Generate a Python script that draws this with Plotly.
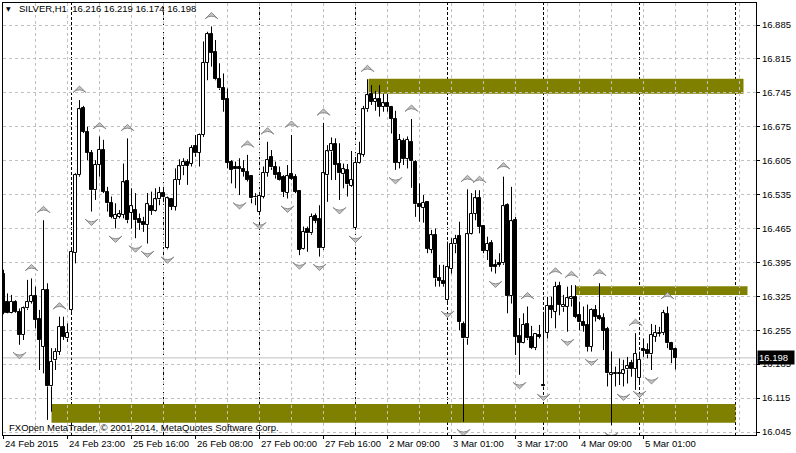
import plotly.graph_objects as go

# ---------------- data (SILVER, H1) ----------------
opens = [16.372,16.314,16.291,16.314,16.293,16.245,16.300,16.314,16.326,16.278,
         16.221,16.338,16.139,16.193,16.211,16.262,16.238,16.297,16.414,16.575,
         16.713,16.665,16.621,16.544,16.596,16.627,16.541,16.517,
         16.484,16.489,16.493,16.563,16.498,16.503,16.484,16.479,16.472,16.511,
         16.502,16.525,16.539,16.424,16.525,16.510,16.565,16.593,16.603,16.599,
         16.635,16.621,16.658,16.807,16.866,16.829,16.773,16.754,
         16.732,16.603,16.591,16.591,16.588,16.582,16.573,16.531,16.500,16.531,
         16.580,16.612,16.591,16.579,16.572,16.539,16.577,16.571,16.543,16.422,
         16.463,16.455,16.491,16.484,16.424,16.575,16.624,16.639,
         16.599,16.577,16.586,16.553,16.467,16.601,16.617,16.711,16.743,16.727,
         16.732,16.716,16.723,16.715,16.691,16.601,16.646,16.608,16.643,16.602,
         16.515,16.507,16.519,16.421,16.451,16.363,16.357,16.317,
         16.381,16.432,16.449,16.268,16.238,16.453,16.495,16.527,16.470,16.419,
         16.436,16.390,16.393,16.393,16.513,16.326,16.482,16.243,16.229,16.268,
         16.242,16.218,16.245,16.143,16.249,16.305,16.293,16.346,
         16.302,16.304,16.319,16.324,16.286,16.273,16.266,16.221,16.297,16.284,
         16.280,16.257,16.163,16.165,16.165,16.165,16.174,16.187,16.176,16.156,
         16.216,16.214,16.205,16.242,16.247,16.249,16.289,16.229,16.216]
highs = [16.380,16.331,16.328,16.317,16.300,16.304,16.359,16.362,16.345,16.297,
         16.482,16.352,16.218,16.218,16.283,16.283,16.269,16.421,16.579,16.730,
         16.718,16.675,16.627,16.606,16.655,16.648,16.551,16.531,
         16.517,16.503,16.599,16.651,16.548,16.538,16.496,16.489,16.538,16.541,
         16.548,16.551,16.551,16.531,16.527,16.589,16.608,16.610,16.608,16.637,
         16.658,16.661,16.851,16.871,16.882,16.854,16.806,16.785,
         16.754,16.606,16.603,16.610,16.606,16.617,16.575,16.538,16.538,16.593,
         16.644,16.627,16.603,16.593,16.575,16.596,16.658,16.577,16.544,16.469,
         16.469,16.496,16.496,16.513,16.683,16.637,16.653,16.651,
         16.641,16.599,16.598,16.625,16.612,16.644,16.718,16.773,16.761,16.749,
         16.761,16.743,16.743,16.718,16.708,16.660,16.651,16.655,16.691,16.606,
         16.558,16.534,16.520,16.462,16.465,16.390,16.390,16.438,
         16.445,16.452,16.479,16.273,16.546,16.538,16.544,16.544,16.472,16.448,
         16.441,16.401,16.414,16.572,16.517,16.551,16.489,16.280,16.290,16.304,
         16.264,16.249,16.266,16.293,16.324,16.324,16.355,16.355,
         16.328,16.345,16.348,16.348,16.314,16.304,16.308,16.300,16.307,16.352,
         16.290,16.262,16.211,16.180,16.197,16.194,16.200,16.194,16.249,16.211,
         16.238,16.228,16.268,16.266,16.262,16.297,16.304,16.231,16.219]
lows = [16.288,16.290,16.290,16.291,16.225,16.235,16.297,16.310,16.259,16.173,
        16.166,16.070,16.087,16.173,16.204,16.235,16.231,16.293,16.393,16.572,
        16.662,16.606,16.500,16.524,16.572,16.538,16.500,16.486,
        16.465,16.486,16.486,16.476,16.465,16.445,16.462,16.458,16.434,16.493,
        16.500,16.513,16.520,16.422,16.503,16.502,16.555,16.575,16.555,16.593,
        16.613,16.593,16.654,16.771,16.799,16.771,16.751,16.706,
        16.589,16.558,16.548,16.534,16.572,16.562,16.517,16.513,16.493,16.527,
        16.572,16.586,16.568,16.564,16.530,16.527,16.565,16.538,16.410,16.421,
        16.417,16.452,16.476,16.407,16.421,16.520,16.565,16.565,
        16.524,16.548,16.531,16.551,16.465,16.599,16.613,16.706,16.720,16.708,
        16.696,16.706,16.706,16.661,16.586,16.589,16.596,16.589,16.549,16.489,
        16.479,16.477,16.414,16.414,16.345,16.345,16.345,16.310,
        16.372,16.414,16.255,16.066,16.225,16.452,16.482,16.455,16.414,16.400,
        16.376,16.372,16.386,16.390,16.290,16.310,16.204,16.163,16.228,16.235,
        16.216,16.214,16.238,16.139,16.238,16.280,16.259,16.286,
        16.293,16.252,16.304,16.280,16.255,16.252,16.211,16.211,16.273,16.276,
        16.214,16.139,16.059,16.139,16.142,16.139,16.145,16.159,16.132,16.145,
        16.200,16.197,16.173,16.231,16.242,16.245,16.218,16.187,16.174]
closes = [16.291,16.291,16.314,16.293,16.245,16.300,16.314,16.326,16.276,16.235,
          16.338,16.139,16.190,16.211,16.262,16.242,16.250,16.417,16.575,16.711,
          16.665,16.621,16.544,16.596,16.627,16.541,16.517,16.489,
          16.493,16.494,16.560,16.482,16.511,16.482,16.476,16.472,16.515,16.502,
          16.525,16.539,16.529,16.527,16.510,16.565,16.593,16.602,16.595,16.632,
          16.620,16.658,16.807,16.866,16.828,16.773,16.754,16.730,
          16.601,16.586,16.587,16.588,16.582,16.566,16.527,16.529,16.533,16.580,
          16.606,16.591,16.575,16.566,16.541,16.573,16.568,16.541,16.421,16.458,
          16.455,16.489,16.481,16.424,16.579,16.624,16.639,16.597,
          16.579,16.587,16.556,16.566,16.601,16.618,16.711,16.740,16.727,16.732,
          16.716,16.723,16.715,16.691,16.601,16.648,16.608,16.648,16.604,16.515,
          16.510,16.518,16.423,16.451,16.362,16.357,16.350,16.385,
          16.433,16.443,16.273,16.238,16.453,16.495,16.527,16.469,16.419,16.434,
          16.385,16.386,16.390,16.511,16.326,16.480,16.242,16.229,16.266,16.238,
          16.218,16.247,16.242,16.140,16.305,16.297,16.345,16.307,
          16.307,16.321,16.323,16.283,16.271,16.264,16.221,16.297,16.283,16.278,
          16.254,16.166,16.166,16.167,16.167,16.172,16.181,16.176,16.207,16.194,
          16.213,16.205,16.245,16.249,16.249,16.290,16.228,16.214,16.198]

# fractal bars (index of bar)
up_fractals = [7, 10, 14, 19, 24, 31, 52, 61, 66, 72, 80, 91, 102, 116, 119, 125,
               131, 138, 142, 149, 158, 166]
down_fractals = [4, 22, 28, 33, 36, 41, 59, 64, 71, 74, 79, 84, 88, 98, 111, 115,
                 123, 129, 135, 141, 147, 152, 155, 159, 162]

# time labels (bar index, text)
label_bars = [0, 16, 32, 48, 64, 80, 96, 112, 128, 144, 160]
label_texts = ["24 Feb 2015", "24 Feb 23:00", "25 Feb 16:00", "26 Feb 08:00",
               "27 Feb 00:00", "27 Feb 16:00", "2 Mar 09:00", "3 Mar 01:00",
               "3 Mar 17:00", "4 Mar 09:00", "5 Mar 01:00"]
# day separators (first bar of each day)
day_bars = [17, 40, 64, 88, 111, 135, 159, 183]

# price tick values
price_ticks = [16.045, 16.115, 16.185, 16.255, 16.325, 16.395, 16.465, 16.535,
               16.605, 16.675, 16.745, 16.815, 16.885]

# zones (rectangles): bar start, bar end, price low, price high
zone_x0 = [91.25, 143, 12]
zone_x1 = [185, 186, 183]
zone_y0 = [16.743, 16.328, 16.064]
zone_y1 = [16.774, 16.346, 16.103]

last_price = 16.198
title_symbol = "SILVER,H1"

# ---------------- figure ----------------
FONT = "Liberation Sans, Arial, sans-serif"
n = len(opens)
idx = list(range(n))
y_range = [16.0388, 16.9304]
plot_h = 432
pxu = (y_range[1] - y_range[0]) / plot_h

fig = go.Figure()

body_base = [min(o, c) for o, c in zip(opens, closes)]
body_h = [max(abs(c - o), 0.0004) for o, c in zip(opens, closes)]
body_col = ["#FFFFFF" if c >= o else "#000000" for o, c in zip(opens, closes)]

# wicks (upper and lower, so they don't cross white bodies)
wx, wy = [], []
for i in idx:
    top = max(opens[i], closes[i])
    bot = min(opens[i], closes[i])
    wx += [i, i, None, i, i, None]
    wy += [highs[i], top, None, bot, lows[i], None]
fig.add_trace(go.Scatter(x=wx, y=wy, mode="lines",
                         line=dict(color="#000000", width=1), hoverinfo="skip"))

fig.add_trace(go.Bar(x=idx, y=body_h, base=body_base, width=0.55,
                     marker=dict(color=body_col, line=dict(color="#000000", width=1)),
                     hoverinfo="skip"))

# fractals
fig.add_trace(go.Scatter(
    x=up_fractals, y=[highs[i] + 14 * pxu for i in up_fractals], mode="markers",
    marker=dict(symbol="arrow-wide", angle=0, size=9, color="#C4C4C4",
                line=dict(color="#8A8A8A", width=1)), hoverinfo="skip"))
fig.add_trace(go.Scatter(
    x=down_fractals, y=[lows[i] - 14 * pxu for i in down_fractals], mode="markers",
    marker=dict(symbol="arrow-wide", angle=180, size=9, color="#C4C4C4",
                line=dict(color="#8A8A8A", width=1)), hoverinfo="skip"))

shapes = []
for x0, x1, y0, y1 in zip(zone_x0, zone_x1, zone_y0, zone_y1):
    shapes.append(dict(type="rect", xref="x", yref="y", x0=x0, x1=x1, y0=y0, y1=y1,
                       fillcolor="#808000", line=dict(width=0), layer="below"))
for b in day_bars:
    shapes.append(dict(type="line", xref="x", yref="paper", x0=b, x1=b, y0=0, y1=1,
                       line=dict(color="#000000", width=1, dash="3px,2px"), layer="below"))
shapes.append(dict(type="line", xref="paper", yref="y", x0=0, x1=1,
                   y0=last_price, y1=last_price,
                   line=dict(color="#C0C0C0", width=1), layer="below"))

annotations = []
for b, t in zip(label_bars, label_texts):
    annotations.append(dict(x=b - 0.125, xref="x", y=0, yref="paper", text=t,
                            xanchor="left", yanchor="top", yshift=-1, showarrow=False,
                            font=dict(family=FONT, size=9.5, color="#000000")))
annotations.append(dict(x=(7 - 3) / 753, xref="paper", y=1 - (427 - 3) / plot_h, yref="paper",
                        text="FXOpen MetaTrader, © 2001-2014, MetaQuotes Software Corp.",
                        xanchor="left", yanchor="middle", showarrow=False,
                        font=dict(family=FONT, size=9.5, color="#000000")))
annotations.append(dict(x=(4 - 3) / 753, xref="paper", y=1 - (9 - 3) / plot_h, yref="paper",
                        text="▼", xanchor="left", yanchor="middle", showarrow=False,
                        font=dict(family="DejaVu Sans", size=6, color="#000000")))
annotations.append(dict(x=(17 - 3) / 753, xref="paper", y=1 - (9 - 3) / plot_h, yref="paper",
                        text=title_symbol + "\u00a0\u00a0" + " ".join(
                            f"{v:.3f}" for v in [opens[-1], highs[-1], lows[-1], closes[-1]]),
                        xanchor="left", yanchor="middle", showarrow=False,
                        font=dict(family=FONT, size=9.5, color="#000000")))
annotations.append(dict(x=1, xref="paper", y=last_price, yref="y", text=f"{last_price:.3f}",
                        xanchor="left", yanchor="middle", xshift=1, showarrow=False,
                        bgcolor="#000000", width=34, align="left", borderpad=1,
                        font=dict(family=FONT, size=9.5, color="#FFFFFF")))

grid = dict(color="#C0C0C0", dash="3px,3px")
fig.update_layout(
    width=796, height=453,
    margin=dict(l=3, r=40, t=3, b=18),
    paper_bgcolor="#FFFFFF", plot_bgcolor="#FFFFFF",
    showlegend=False, bargap=0,
    shapes=shapes, annotations=annotations,
    xaxis=dict(range=[-0.125, 188.125], tickmode="array", tickvals=label_bars,
               showticklabels=False, ticks="outside", ticklen=3, tickcolor="#000000",
               showgrid=True, gridcolor=grid["color"], griddash=grid["dash"], gridwidth=1,
               minor=dict(tickvals=[b + 8 for b in label_bars] + [176, 184], showgrid=True,
                          gridcolor=grid["color"], griddash=grid["dash"], ticks=""),
               showline=True, mirror=True, linecolor="#000000", linewidth=1,
               zeroline=False, fixedrange=True),
    yaxis=dict(side="right", range=y_range, tickmode="array", tickvals=price_ticks,
               ticktext=[f"{v:.3f}" for v in price_ticks], ticks="outside", ticklen=3,
               tickcolor="#000000", tickfont=dict(family=FONT, size=9.5, color="#000000"),
               showgrid=True, gridcolor=grid["color"], griddash=grid["dash"], gridwidth=1,
               showline=True, mirror=True, linecolor="#000000", linewidth=1,
               zeroline=False, fixedrange=True),
)

fig.write_html("out.html", config={"displayModeBar": False},
               post_script="document.body.style.margin='0';document.body.style.overflow='hidden';")
